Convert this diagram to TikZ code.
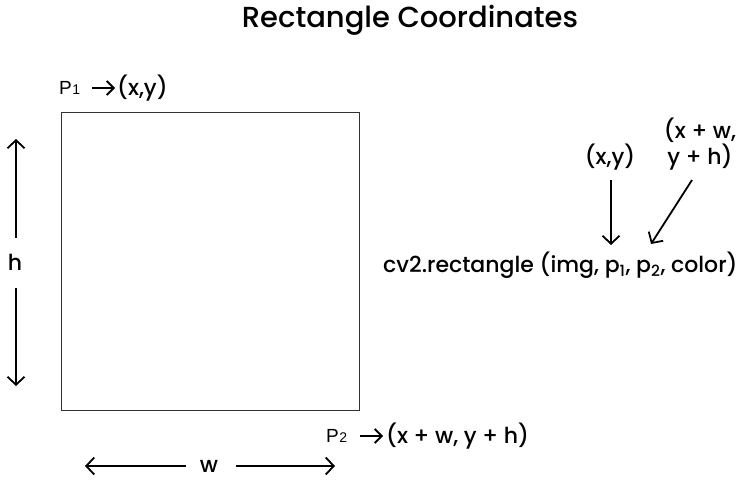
\documentclass[tikz,border=0pt]{standalone}
\usepackage{fontspec}
\setmainfont{Poppins Medium}
\newfontfamily\arialf{Liberation Sans}
\usetikzlibrary{arrows.meta}
\begin{document}
\begin{tikzpicture}[x=1pt,y=-1pt,
  lbl/.style={inner sep=0pt,font=\fontsize{22}{24}\selectfont},
  arr/.style={line width=1.8pt,-{Straight Barb[length=8pt,width=17pt,line width=1.8pt]}},
  arrs/.style={line width=1.8pt,-{Straight Barb[length=7pt,width=14pt,line width=1.8pt]}}]
\useasboundingbox (0,0) rectangle (744,484);
\node[inner sep=0pt,font=\fontsize{29}{32}\selectfont] (title) at (410,20) {Rectangle Coordinates};
\draw[line width=0.8pt,black!80] (61,112) rectangle (359,410);
% P1
\node[lbl,font=\arialf\fontsize{19}{20}\selectfont,anchor=west] (p1) at (59,88) {P\kern0.5pt\raisebox{-0.5pt}{\fontsize{14}{14}\selectfont 1}};
\coordinate (p1a) at (92,88);
\coordinate (p1b) at (115,88);
\draw[arrs] (p1a) -- (p1b);
\node[lbl,anchor=west] (p1t) at (117,88) {(x,y)};
% h
\node[lbl] (h) at (15,262) {h};
\coordinate (hu1) at (16,238); \coordinate (hu2) at (16,139);
\coordinate (hd1) at (16,288); \coordinate (hd2) at (16,386);
\draw[arr] (hu1) -- (hu2);
\draw[arr] (hd1) -- (hd2);
% w
\node[lbl] (w) at (209,466) {w};
\coordinate (wl1) at (186,466); \coordinate (wl2) at (85,466);
\coordinate (wr1) at (236,466); \coordinate (wr2) at (335,466);
\draw[arr] (wl1) -- (wl2);
\draw[arr] (wr1) -- (wr2);
% P2
\node[lbl,font=\arialf\fontsize{19}{20}\selectfont,anchor=west] (p2) at (326,436) {P\kern0.5pt\raisebox{-0.5pt}{\fontsize{14}{14}\selectfont 2}};
\coordinate (p2a) at (360,436);
\coordinate (p2b) at (383,436);
\draw[arrs] (p2a) -- (p2b);
\node[lbl,anchor=west] (p2t) at (386,436) {(x + w, y + h)};
% right side
\node[lbl] (xy) at (610,157) {(x,y)};
\node[lbl,align=center] (xwyh) at (700,144) {(x + w,\\[1pt] y + h)};
\node[lbl,anchor=west] (cv) at (383,265) {cv2.rectangle (img, p\textsubscript{1}, p\textsubscript{2}, color)};
\coordinate (a1s) at (611,180); \coordinate (a1e) at (611,245);
\coordinate (a2s) at (692,180); \coordinate (a2e) at (651,244);
\draw[arr] (a1s) -- (a1e);
\draw[arr] (a2s) -- (a2e);
\end{tikzpicture}
\end{document}
